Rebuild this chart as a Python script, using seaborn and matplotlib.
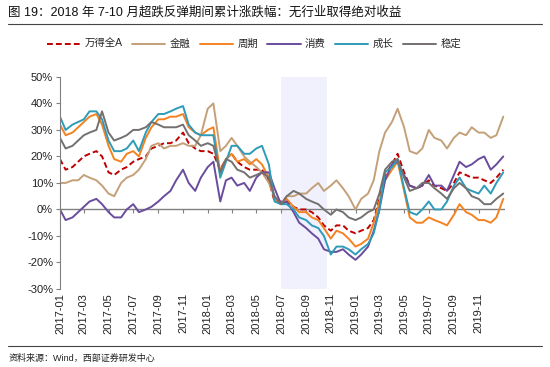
import pandas as pd
import matplotlib
matplotlib.use('Agg')
import matplotlib.pyplot as plt
from matplotlib.lines import Line2D
import seaborn as sns

# 半月频率的累计涨跌幅 (%)
dates = pd.date_range('2017-01-01', periods=73, freq='SMS')

wind_a = [19, 15, 16, 18, 20, 21, 22, 20, 14, 13, 15, 16, 18, 19, 20, 23, 24, 25,
          25, 26, 29, 25, 23, 22, 22, 21, 15, 19, 21, 18, 16, 15, 15, 15, 11, 3,
          3, 3, 1, 0, 0, -1, -3, -6, -8, -6, -6, -8, -9, -8, -7, -4, 4,
          13, 17, 21, 14, 9, 8, 9, 11, 9, 8, 7, 10, 14, 13, 12, 12, 11, 10, 12, 15]
finance = [10, 10, 11, 11, 13, 12, 11, 9, 6, 5, 10, 12, 13, 15, 19, 24, 25, 23,
           24, 24, 25, 24, 24, 28, 38, 40, 22, 24, 27, 24, 20, 18, 16, 14, 10, 5,
           2, 5, 5, 6, 6, 8, 10, 7, 9, 11, 8, 5, 0, 4, 6, 11, 22,
           29, 33, 38, 31, 22, 21, 23, 30, 27, 26, 23, 27, 29, 28, 31, 29, 29, 27, 28, 35]
cycle = [32, 28, 29, 31, 33, 35, 36, 32, 24, 19, 18, 21, 22, 20, 27, 31, 34, 34,
         35, 35, 36, 31, 29, 28, 30, 31, 14, 19, 21, 18, 19, 17, 19, 17, 12, 4,
         2, 4, 1, -1, -1, -3, -4, -7, -11, -8, -9, -11, -14, -13, -11, -5, 3,
         11, 15, 18, 7, -3, -5, -5, -3, -4, -5, -6, -2, 2, -1, -2, -4, -4, -5, -3, 4]
consumer = [0, -4, -3, -1, 1, 3, 4, 2, -1, -3, -3, 0, 2, -1, 0, 1, 3, 5,
            7, 11, 15, 10, 7, 12, 16, 18, 3, 11, 12, 9, 10, 7, 12, 14, 14, 8,
            2, 3, -1, -5, -7, -9, -11, -15, -16, -16, -15, -17, -19, -17, -14, -8, 0,
            11, 17, 18, 13, 9, 8, 9, 13, 9, 9, 7, 13, 18, 16, 17, 19, 20, 15, 17, 20]
growth = [35, 30, 32, 33, 34, 37, 37, 34, 26, 22, 22, 23, 26, 22, 29, 33, 36, 36,
          37, 38, 39, 32, 29, 28, 28, 28, 12, 18, 24, 24, 21, 21, 23, 24, 17, 3,
          2, 2, 0, -3, -4, -6, -7, -10, -17, -14, -14, -15, -17, -15, -13, -9, 0,
          14, 16, 19, 8, -1, -2, 0, 3, 0, 0, 3, 9, 12, 8, 7, 6, 9, 6, 10, 14]
stable = [27, 23, 24, 26, 28, 29, 30, 37, 29, 26, 27, 28, 30, 30, 31, 33, 32, 31,
          31, 31, 32, 28, 26, 24, 25, 24, 14, 19, 18, 15, 14, 12, 13, 14, 12, 5,
          2, 5, 7, 6, 4, 3, 2, 0, -2, 0, -1, -3, -4, -3, -1, 0, 6,
          15, 18, 19, 12, 7, 8, 10, 10, 8, 6, 4, 8, 10, 8, 5, 4, 2, 2, 4, 6]

names = ['万得全A', '金融', '周期', '消费', '成长', '稳定']
colors = ['#C00000', '#C4A079', '#F58220', '#6A4C9C', '#2E9BB8', '#747070']

df = pd.DataFrame({'date': dates, '万得全A': wind_a, '金融': finance, '周期': cycle,
                   '消费': consumer, '成长': growth, '稳定': stable})
long_df = df.melt(id_vars='date', var_name='series', value_name='value')

sns.set_theme(style='white')
plt.rcParams['font.family'] = ['Liberation Sans', 'Noto Sans CJK SC', 'DejaVu Sans']

fig = plt.figure(figsize=(5.5, 3.67), dpi=100)
ax = fig.add_axes([0.109, 0.2125, 0.809, 0.578])

# 2018年7-10月超跌反弹区间
ax.axvspan(pd.Timestamp('2018-07-01'), pd.Timestamp('2018-10-22'), color='#F1F1FE', lw=0, zorder=0)

sns.lineplot(data=long_df, x='date', y='value', hue='series', style='series',
             palette=dict(zip(names, colors)),
             dashes={n: ((3, 1.6) if n == '万得全A' else '') for n in names},
             hue_order=names, style_order=names, linewidth=1.4, ax=ax)

ax.set_xlim(pd.Timestamp('2017-01-01'), pd.Timestamp('2020-01-05'))
ax.set_ylim(-30, 50)
ax.set_yticks(range(-30, 51, 10))
ax.set_yticklabels([f'{v}%' for v in range(-30, 51, 10)], fontsize=8)
ticks = pd.date_range('2017-01-01', '2019-11-01', freq='2MS')
ax.set_xticks(ticks)
ax.set_xticklabels([t.strftime('%Y-%m') for t in ticks], rotation=90, fontsize=8)
ax.set_xlabel('')
ax.set_ylabel('')
for s in ['top', 'right', 'bottom']:
    ax.spines[s].set_visible(False)
ax.spines['left'].set_color('#808080')
ax.spines['left'].set_linewidth(0.8)
ax.tick_params(axis='y', left=True, length=3, width=0.8, color='#808080', pad=2, labelcolor='#222222')
ax.tick_params(axis='x', bottom=False, length=0, pad=3, labelcolor='#222222')

# 0 轴线与刻度
ax.axhline(0, color='#808080', lw=1, zorder=1)
sec = ax.secondary_xaxis(0.375)
sec.set_xticks(ticks)
sec.tick_params(axis='x', length=3, width=0.8, color='#808080', labelbottom=False)
sec.spines['bottom'].set_visible(False)

ax.get_legend().remove()
handles = [Line2D([], [], color=c, lw=1.4, linestyle=(0, (3, 1.6)) if n == '万得全A' else '-')
           for n, c in zip(names, colors)]
fig.legend(handles, names, loc='center', bbox_to_anchor=(0.462, 0.88), ncol=6,
           frameon=False, fontsize=7.5, handlelength=3.2, columnspacing=0.9, handletextpad=0.4)

fig.text(0.015, 1 - 12 / 367, '图 19：2018 年 7-10 月超跌反弹期间累计涨跌幅：无行业取得绝对收益',
         fontsize=9, va='center', color='#111111')
fig.add_artist(Line2D([8 / 550, 542 / 550], [1 - 24 / 367] * 2, color='#444444', lw=0.8))
fig.add_artist(Line2D([8 / 550, 542 / 550], [1 - 346 / 367] * 2, color='#444444', lw=0.8))
fig.text(0.015, 1 - 358 / 367, '资料来源：Wind，西部证券研发中心', fontsize=6.5, va='center', color='#222222')

fig.savefig('out.png', dpi=100)
